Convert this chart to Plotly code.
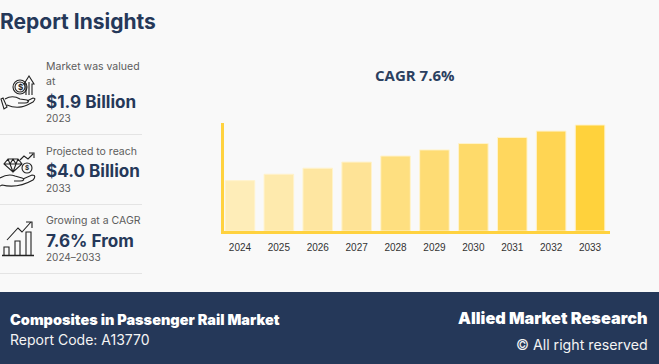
import re
import plotly.graph_objects as go

W, H = 659, 364

# ---- data ----
years = ["2024", "2025", "2026", "2027", "2028", "2029", "2030", "2031", "2032", "2033"]
market_value = [1.9, 2.14, 2.37, 2.6, 2.83, 3.06, 3.3, 3.53, 3.77, 4.0]

title_text = "Report Insights"
chart_title = "CAGR 7.6%"
insights = [
    (["Market was valued", "at"], "$1.9 Billion", "2023"),
    (["Projected to reach"], "$4.0 Billion", "2033"),
    (["Growing at a CAGR"], "7.6% From", "2024–2033"),
]
footer_left = ["Composites in Passenger Rail Market", "Report Code: A13770"]
footer_right = ["Allied Market Research", "© All right reserved"]

# ---- style ----
BG = "#F9F9F9"
NAVY = "#253859"
GREY = "#5C5C5C"
YELLOW = "#FFD23F"
bar_colors = ["#FEEDB8", "#FEEAAD", "#FEE6A1", "#FEE396", "#FEDF80",
              "#FEDC74", "#FEDA6A", "#FFD75E", "#FFD553", "#FFD23C"]
FONT = "Inter"


def px(x):
    return x / W


def py(y):
    return 1 - y / H


def pth(d):
    """Convert a path given in page pixels to paper coordinates."""
    def rep(m):
        return f"{px(float(m.group(1))):.5f},{py(float(m.group(2))):.5f}"
    return re.sub(r"(-?[\d.]+),(-?[\d.]+)", rep, d)


shapes = []


def add_path(d, color="#222222", width=1.1, fill=None):
    shapes.append(dict(type="path", xref="paper", yref="paper", path=pth(d),
                       line=dict(color=color, width=width),
                       fillcolor=fill if fill else "rgba(0,0,0,0)", layer="above"))


def add_circle(cx, cy, r, width=1.1):
    shapes.append(dict(type="circle", xref="paper", yref="paper",
                       x0=px(cx - r), x1=px(cx + r), y0=py(cy + r), y1=py(cy - r),
                       line=dict(color="#222222", width=width), layer="above"))


def add_rect(x0, y0, x1, y1, color, layer="below"):
    shapes.append(dict(type="rect", xref="paper", yref="paper",
                       x0=px(x0), x1=px(x1), y0=py(y1), y1=py(y0),
                       fillcolor=color, line=dict(width=0), layer=layer))


annotations = []


def text(x, y, s, size, color, anchor="left", bold=False, weight=None, family=FONT):
    f = dict(family=family, size=size, color=color)
    if weight:
        f["weight"] = weight
    annotations.append(dict(x=px(x), y=py(y), xref="paper", yref="paper", text=f"<b>{s}</b>" if bold else s,
                            showarrow=False, xanchor=anchor, yanchor="middle",
                            align=anchor, font=f, borderpad=0, borderwidth=0))


# footer and separators
add_rect(0, 292, W, H, NAVY)
for sep in (134.5, 204.5, 273.5):
    add_rect(0, sep - 0.5, 142, sep + 0.5, "#E4E4E4")

# icon 1: coin, arrow, hand
add_circle(20, 87, 7)
add_circle(20, 87, 5)
add_path("M26,95 L26,84 L24,84 L29,76 L34,84 L32,84 L32,95")
add_path("M29,82 L29,95")
add_path("M3,98 L7,107 L4,109 L1,99 Z")
add_path("M5,99 C10,96 15,96 20,99 L27,100 C30,101 28,103 25,103 L18,103 "
         "M27,101 L33,98 C36,98 35,100 33,102 C26,106 18,110 7,105")
text(20, 87, "$", 8, "#222222", anchor="center", bold=True)

# icon 2: diamond, coin, arrow, hand
add_path("M8,159 L18,159 L22,164 L13,172 L4,164 Z M4,164 L22,164 M10,164 L13,172 L16,164 M8,159 L10,164 L13,159 L16,164 L18,159")
add_circle(27, 168, 5)
text(27, 168, "$", 6.5, "#222222", anchor="center", bold=True)
add_path("M20,160 L24,156 L28,159 L33,154 M29,153 L34,153 L34,158")
add_path("M0,178 C5,175 10,174 15,176 L22,178 C25,179 24,181 20,181 L14,181 "
         "M23,179 L32,175 C36,175 35,178 33,180 C26,184 14,188 2,185 L0,186")

# icon 3: growth bars and arrow
add_path("M2,255.5 L34,255.5", width=1.4)
add_path("M4,255 L4,247 L9,247 L9,255")
add_path("M15,255 L15,241 L20,241 L20,255")
add_path("M26,255 L26,232 L31,232 L31,255")
add_path("M7,240 L18,228 L22,232 L31,222 M26,222 L32,222 L32,228")

# texts
text(0, 21, title_text, 21, NAVY, bold=True)
layout_rows = [((66, 82), 101, 118), ((151.5,), 170, 188), ((221,), 240, 257)]
for (lines, big, small), (ly, by, sy) in zip(insights, layout_rows):
    for ln, yy in zip(lines, ly):
        text(46, yy, ln, 10.5, GREY)
    text(46, by, big, 17.1, NAVY, bold=True)
    text(46, sy, small, 10, GREY)
text(415, 75, chart_title, 15, "#2B4060", anchor="center", bold=True, family="Open Sans")
text(10, 319, footer_left[0], 14.5, "white", weight=900)
text(10, 339, footer_left[1], 14, "#F4F4F4")
text(648, 318, footer_right[0], 16.3, "white", anchor="right", weight=900)
text(648, 345, footer_right[1], 14.2, "#F4F4F4", anchor="right")

fig = go.Figure(go.Bar(x=years, y=market_value, width=0.76,
                       marker=dict(color=bar_colors, line=dict(color="#FFF3CC", width=1)),
                       hoverinfo="skip"))
fig.update_layout(
    width=W, height=H, autosize=False, margin=dict(l=0, r=0, t=0, b=0),
    paper_bgcolor=BG, plot_bgcolor=BG, showlegend=False,
    shapes=shapes, annotations=annotations,
    xaxis=dict(domain=[px(220.5), px(609.5)], type="category", range=[-0.5, 9.5],
               showline=True, linecolor=YELLOW, linewidth=2.5, showgrid=False,
               ticks="", tickfont=dict(family="Liberation Sans", size=10, color="#333333"),
               ticklabelstandoff=5),
    yaxis=dict(domain=[py(231), py(123)], range=[0, 4.075], showline=True, linecolor=YELLOW,
               linewidth=2.5, showgrid=False, zeroline=False, showticklabels=False, ticks="",
               anchor="free", position=px(221.5)),
)
fig.write_html("out.html", config=dict(displayModeBar=False),
               post_script="document.body.style.margin='0';document.body.style.overflow='hidden';")
